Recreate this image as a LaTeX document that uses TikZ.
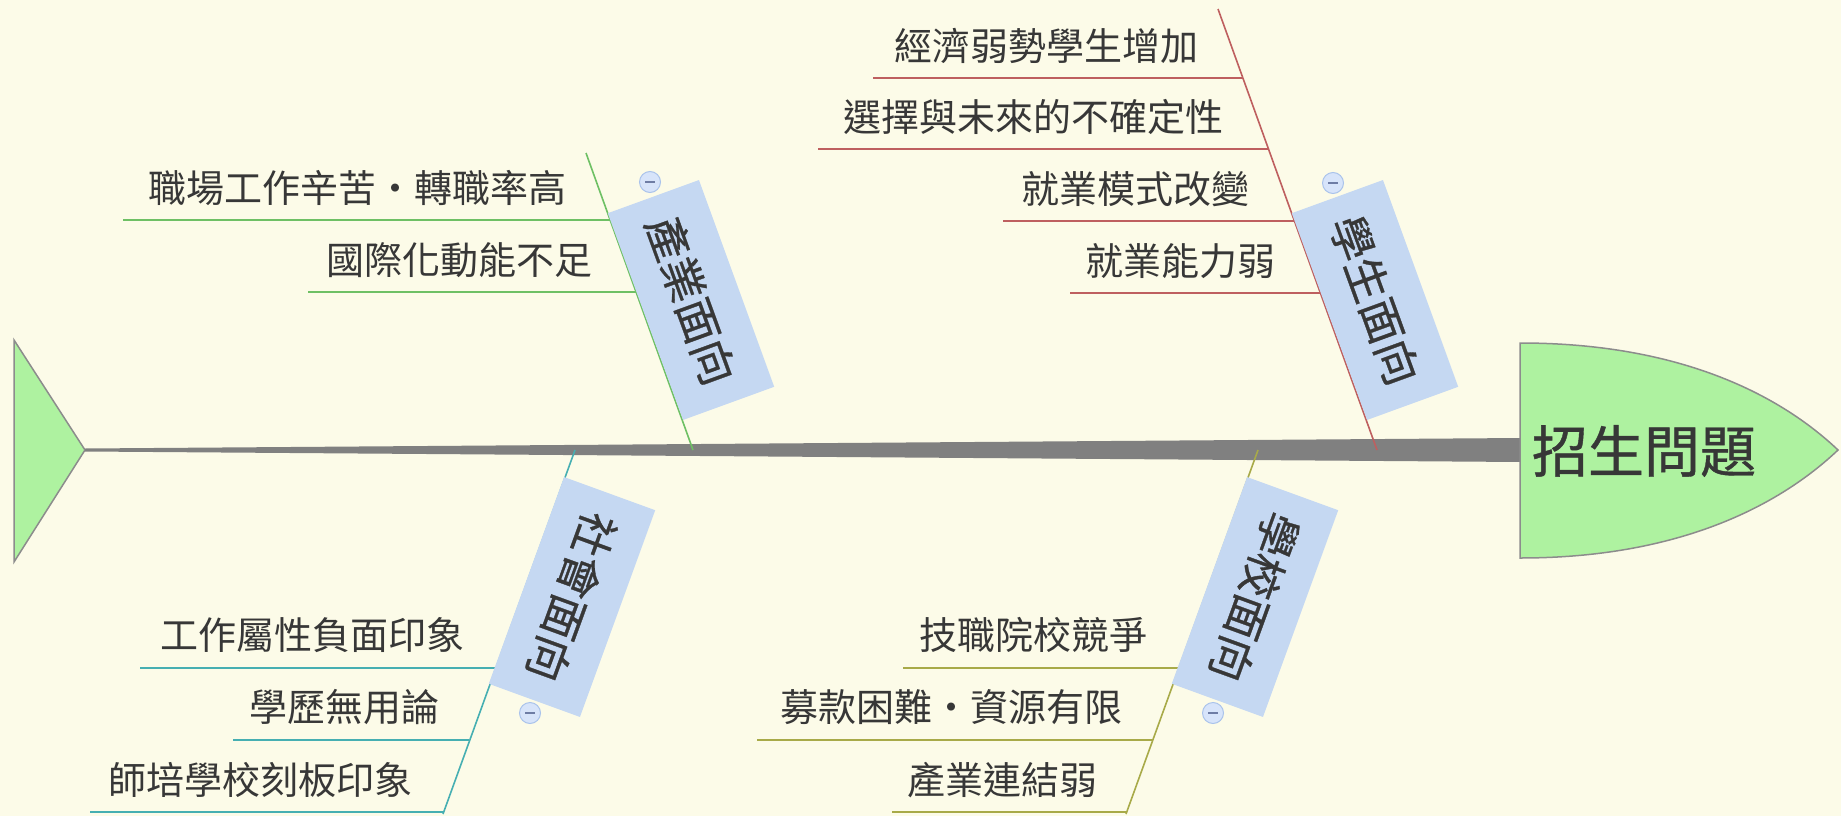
\documentclass[tikz,border=0pt]{standalone}
\usepackage{fontspec}
\newfontfamily\cjk{Noto Sans CJK TC}
\newfontfamily\cjkb[FakeBold=0.7]{Noto Sans CJK TC}
\definecolor{bg}{RGB}{252,251,232}
\definecolor{headc}{RGB}{174,242,160}
\definecolor{edgec}{RGB}{140,140,140}
\definecolor{spinec}{RGB}{128,128,128}
\definecolor{txt}{RGB}{55,55,55}
\definecolor{boxc}{RGB}{197,216,242}
\definecolor{redc}{RGB}{190,95,95}
\definecolor{greenc}{RGB}{110,192,100}
\definecolor{tealc}{RGB}{70,175,178}
\definecolor{olivec}{RGB}{168,170,72}
\definecolor{mfill}{RGB}{215,228,250}
\definecolor{mdraw}{RGB}{170,195,235}
\definecolor{mline}{RGB}{110,125,165}
\begin{document}
\begin{tikzpicture}[x=1bp,y=1bp,
  leaf/.style={font=\cjk\fontsize{38bp}{40bp}\selectfont, text=txt, inner sep=0pt,
    text height=33.4bp, text depth=4.6bp, anchor=east},
  catbox/.style={fill=boxc, minimum width=220bp, minimum height=97bp, inner sep=0pt,
    font=\cjkb\fontsize{44bp}{46bp}\selectfont, text=txt},
  bone/.style={line width=1.6bp},
  mbtn/.style={circle, fill=mfill, draw=mdraw, line width=1bp, minimum size=21bp, inner sep=0pt,
    path picture={\draw[mline,line width=1.3bp] ([xshift=-5bp]path picture bounding box.center) -- ([xshift=5bp]path picture bounding box.center);}}
]
\fill[bg] (0,0) rectangle (1841,-816);
\useasboundingbox (0,0) rectangle (1841,-816);

% tail
\coordinate (tailtip) at (85,-450);
\draw[fill=headc, draw=edgec, line width=1.5bp] (14,-340) -- (tailtip) -- (14,-562) -- cycle;

% spine
\coordinate (s1) at (85,-448.5);
\coordinate (s2) at (1521,-438);
\coordinate (s3) at (1521,-462);
\coordinate (s4) at (85,-451.5);
\fill[spinec] (s1) -- (s2) -- (s3) -- (s4) -- cycle;

% head
\draw[fill=headc, draw=edgec, line width=1.5bp] (1520,-343) .. controls (1680,-343) and (1780,-395) .. (1838,-450)
  .. controls (1780,-505) and (1680,-558) .. (1520,-558) -- cycle;
\node[font=\cjkb\fontsize{56bp}{58bp}\selectfont, text=txt, inner sep=0pt] (title) at (1644,-451) {招生問題};

% ---------- 學生面向 (red) ----------
\coordinate (rT) at (1218,-9);
\coordinate (rB) at (1377,-450);
\draw[redc, bone] (rT) -- (rB);
\coordinate (r1a) at (873,-78);  \coordinate (r1b) at (1242.9,-78);
\coordinate (r2a) at (818,-149); \coordinate (r2b) at (1268.5,-149);
\coordinate (r3a) at (1003,-221);\coordinate (r3b) at (1294.4,-221);
\coordinate (r4a) at (1070,-293);\coordinate (r4b) at (1320.4,-293);
\draw[redc, bone] (r1a) -- (r1b);
\draw[redc, bone] (r2a) -- (r2b);
\draw[redc, bone] (r3a) -- (r3b);
\draw[redc, bone] (r4a) -- (r4b);
\node[leaf] (r1) at (1199,-46) {經濟弱勢學生增加};
\node[leaf] (r2) at (1224,-117) {選擇與未來的不確定性};
\node[leaf] (r3) at (1250,-189) {就業模式改變};
\node[leaf] (r4) at (1276,-261) {就業能力弱};
\node[catbox, rotate=-70] (cs) at (1375,-300) {學生面向};
\node[mbtn] (ms) at (1333,-183) {};

% ---------- 產業面向 (green) ----------
\coordinate (gT) at (586,-153);
\coordinate (gB) at (693,-450);
\draw[greenc, bone] (gT) -- (gB);
\coordinate (g1a) at (123,-220); \coordinate (g1b) at (610.1,-220);
\coordinate (g2a) at (308,-292); \coordinate (g2b) at (636.1,-292);
\draw[greenc, bone] (g1a) -- (g1b);
\draw[greenc, bone] (g2a) -- (g2b);
\node[leaf] (g1) at (567,-188) {職場工作辛苦・轉職率高};
\node[leaf] (g2) at (593,-260) {國際化動能不足};
\node[catbox, rotate=-70] (ci) at (691,-300) {產業面向};
\node[mbtn] (mi) at (650,-182) {};

% ---------- 社會面向 (teal) ----------
\coordinate (tT) at (575,-450);
\coordinate (tB) at (443,-814);
\draw[tealc, bone] (tT) -- (tB);
\coordinate (t1a) at (140,-668); \coordinate (t1b) at (495.5,-668);
\coordinate (t2a) at (233,-740); \coordinate (t2b) at (469.3,-740);
\coordinate (t3a) at (90,-812);  \coordinate (t3b) at (443.7,-812);
\draw[tealc, bone] (t1a) -- (t1b);
\draw[tealc, bone] (t2a) -- (t2b);
\draw[tealc, bone] (t3a) -- (t3b);
\node[leaf] (t1) at (465,-635) {工作屬性負面印象};
\node[leaf] (t2) at (440,-707) {學歷無用論};
\node[leaf] (t3) at (413,-780) {師培學校刻板印象};
\node[catbox, rotate=-110] (cso) at (572,-597) {社會面向};
\node[mbtn] (mso) at (530,-713) {};

% ---------- 學校面向 (olive) ----------
\coordinate (oT) at (1258,-450);
\coordinate (oB) at (1126,-814);
\draw[olivec, bone] (oT) -- (oB);
\coordinate (o1a) at (903,-668); \coordinate (o1b) at (1179.1,-668);
\coordinate (o2a) at (757,-740); \coordinate (o2b) at (1153.1,-740);
\coordinate (o3a) at (892,-812); \coordinate (o3b) at (1126.7,-812);
\draw[olivec, bone] (o1a) -- (o1b);
\draw[olivec, bone] (o2a) -- (o2b);
\draw[olivec, bone] (o3a) -- (o3b);
\node[leaf] (o1) at (1148,-635) {技職院校競爭};
\node[leaf] (o2) at (1123,-707) {募款困難・資源有限};
\node[leaf] (o3) at (1098,-780) {產業連結弱};
\node[catbox, rotate=-110] (csc) at (1255,-597) {學校面向};
\node[mbtn] (msc) at (1213,-713) {};
\end{tikzpicture}
\end{document}
